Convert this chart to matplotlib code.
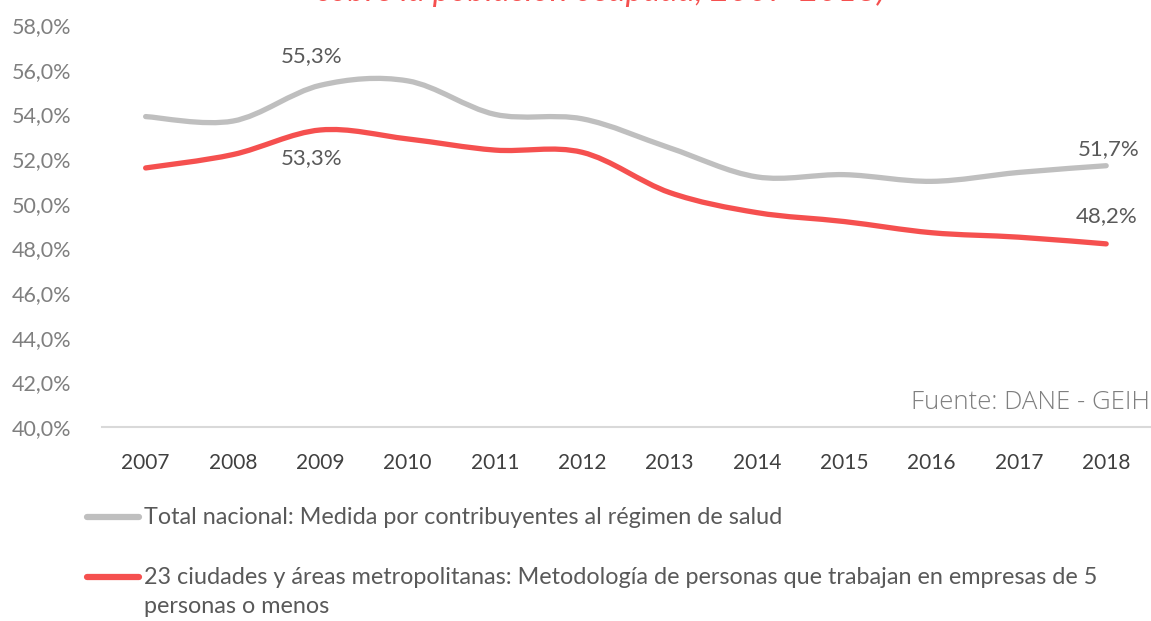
import numpy as np
import matplotlib
matplotlib.use("Agg")
from matplotlib import pyplot as plt
from matplotlib.path import Path
from matplotlib.patches import PathPatch
from matplotlib.lines import Line2D

plt.rcParams['font.family'] = ['Lato', 'DejaVu Sans']

years = ['2007', '2008', '2009', '2010', '2011', '2012',
		 '2013', '2014', '2015', '2016', '2017', '2018']
total_nacional = [53.9, 53.7, 55.3, 55.5, 54.0, 53.8, 52.5, 51.2, 51.3, 51.0, 51.4, 51.7]
ciudades_23 = [51.6, 52.2, 53.3, 52.9, 52.4, 52.3, 50.5, 49.6, 49.2, 48.7, 48.5, 48.2]
yticks = [40, 42, 44, 46, 48, 50, 52, 54, 56, 58]

label_total = "Total nacional: Medida por contribuyentes al régimen de salud"
label_ciudades = ("23 ciudades y áreas metropolitanas: Metodología de personas que trabajan en empresas de 5\n"
				  "personas o menos")

GRAY = '#bfbfbf'
RED = '#f5504f'
TXT = '#595959'


def smooth_path(xs, ys):
	# excel-like smoothed line: bezier segments with catmull-rom control points
	pts = np.column_stack([xs, ys]).astype(float)
	n = len(pts)
	verts = [pts[0]]
	codes = [Path.MOVETO]
	for i in range(n - 1):
		p0 = pts[i - 1] if i > 0 else pts[i]
		p1 = pts[i]
		p2 = pts[i + 1]
		p3 = pts[i + 2] if i + 2 < n else pts[i + 1]
		c1 = p1 + (p2 - p0) / 6.0
		c2 = p2 - (p3 - p1) / 6.0
		verts += [c1, c2, p2]
		codes += [Path.CURVE4] * 3
	return Path(verts, codes)


fig = plt.figure(figsize=(11.51, 6.21), dpi=100)
ax = fig.add_axes([0.0886, 0.3124, 0.9104, 0.6473])

x = np.arange(len(years))
for vals, col in [(total_nacional, GRAY), (ciudades_23, RED)]:
	patch = PathPatch(smooth_path(x, vals), facecolor='none', edgecolor=col,
					  lw=3.8, capstyle='round', joinstyle='round')
	ax.add_patch(patch)

ax.set_xlim(-0.5, len(years) - 0.5)
ax.set_ylim(40, 58)
ax.set_xticks(x)
ax.set_xticklabels(years, fontsize=15, color='#404040')
ax.set_yticks(yticks)
ax.set_yticklabels(['%d,0%%' % v for v in yticks], fontsize=15.5, color='#7f7f7f')
ax.tick_params(axis='both', length=0)
ax.tick_params(axis='x', pad=19)
ax.tick_params(axis='y', pad=22)
for s in ['top', 'right', 'left']:
	ax.spines[s].set_visible(False)
ax.spines['bottom'].set_color('#d9d9d9')
ax.spines['bottom'].set_linewidth(1.5)

# data labels
ax.annotate('55,3%', (2, total_nacional[2]), xytext=(-6, 14), textcoords='offset points',
			ha='center', va='bottom', fontsize=16, color=TXT)
ax.annotate('53,3%', (2, ciudades_23[2]), xytext=(-6, -13), textcoords='offset points',
			ha='center', va='top', fontsize=16, color=TXT)
ax.annotate('51,7%', (11, total_nacional[11]), xytext=(2, 5), textcoords='offset points',
			ha='center', va='bottom', fontsize=16, color=TXT)
ax.annotate('48,2%', (11, ciudades_23[11]), xytext=(0, 13), textcoords='offset points',
			ha='center', va='bottom', fontsize=16, color=TXT)

ax.text(1.0, 0.03, 'Fuente: DANE - GEIH', transform=ax.transAxes, ha='right', va='bottom',
		fontsize=18.5, color='#7f7f7f', family=['Open Sans', 'DejaVu Sans'], fontweight='light')

# clipped title
fig.text(0.522, 0.999, 'sobre la población ocupada, 2007-2018)', ha='center', va='baseline',
		 fontsize=24, color=RED, style='italic')

# legend drawn by hand
fig.add_artist(Line2D([0.076, 0.121], [1 - 517 / 621.0] * 2, color=GRAY, lw=4.5,
					  solid_capstyle='round', transform=fig.transFigure))
fig.text(0.125, 1 - 524 / 621.0, label_total, ha='left', va='baseline', fontsize=16.8, color=TXT)
fig.add_artist(Line2D([0.076, 0.121], [1 - 577 / 621.0] * 2, color=RED, lw=4.5,
					  solid_capstyle='round', transform=fig.transFigure))
fig.text(0.125, 1 - 613 / 621.0, label_ciudades, ha='left', va='baseline', fontsize=16.8, color=TXT,
		 linespacing=1.45, transform=fig.transFigure)

fig.savefig('out.png', dpi=100)
